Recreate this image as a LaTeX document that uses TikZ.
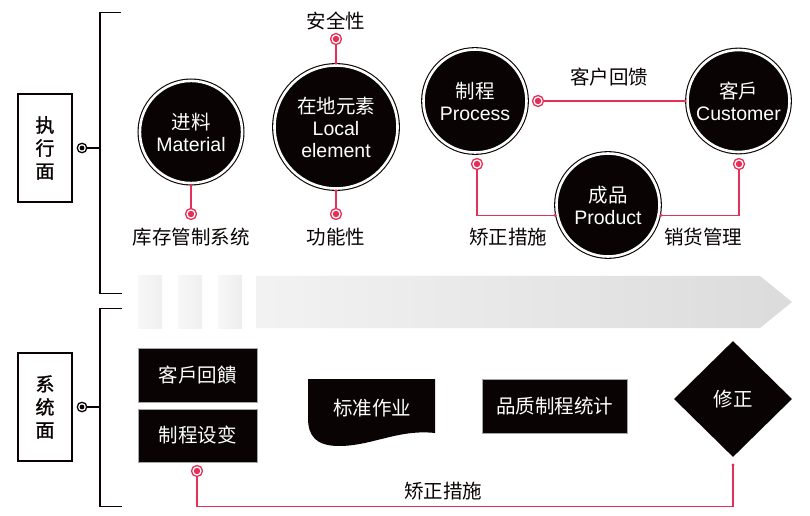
\documentclass[tikz,border=0pt]{standalone}
\usepackage{fontspec}
\setmainfont{Liberation Sans}
\newfontfamily\cjk{Noto Sans CJK SC}
\newfontfamily\cjkbold[FakeBold=1.2]{Noto Sans CJK SC}
\usetikzlibrary{shapes.geometric}
\definecolor{ink}{RGB}{10,3,3}
\definecolor{rose}{RGB}{228,48,88}
\begin{document}
\begin{tikzpicture}[x=1bp,y=-1bp,
  txt/.style={font=\cjk\fontsize{19.5bp}{22bp}\selectfont, text=ink, inner sep=0},
  bigcirc/.style={circle, fill=ink, draw=ink, line width=1.1bp, double=white, double distance=2.6bp,
    inner sep=0, outer sep=2.4bp, text=white, align=center, font=\fontsize{19.5bp}{22bp}\selectfont},
  tgt/.style={circle, draw=rose, line width=1.3bp, fill=white, minimum size=11bp, inner sep=0, outer sep=0,
    path picture={\fill[rose] (path picture bounding box.center) circle (3.2bp);}},
  ring/.style={circle, draw=ink, line width=1.3bp, fill=white, minimum size=9.5bp, inner sep=0, outer sep=0,
    path picture={\fill[ink] (path picture bounding box.center) circle (2.4bp);}},
  pk/.style={draw=rose, line width=1.3bp},
  brk/.style={draw=ink, line width=1.2bp},
  sidebox/.style={rectangle, draw=ink, line width=1.1bp, minimum width=54bp, minimum height=108bp,
    align=center, font=\cjkbold\fontsize{19bp}{23bp}\selectfont, inner sep=0, text=ink},
  boxb/.style={rectangle, fill=ink, draw=black!35, line width=0.5bp, text=white,
    font=\cjk\fontsize{19.5bp}{22bp}\selectfont, inner sep=0},
]
\useasboundingbox (0,0) rectangle (810,516);
\fill[white] (0,0) rectangle (810,516);

% grey band
\shade[left color=black!3, right color=black!6] (138,276) rectangle (162,328);
\shade[left color=black!3, right color=black!6] (178,276) rectangle (202,328);
\shade[left color=black!3, right color=black!7] (218,276) rectangle (242,328);
\shade[left color=black!5, right color=black!14] (256,276) -- (760,276) -- (792,302) -- (760,328) -- (256,328) -- cycle;

% brackets
\draw[brk] (121,12.7) -- (100,12.7) -- (100,293.3) -- (122,293.3);
\draw[brk] (122,308.3) -- (100,308.3) -- (100,506.7) -- (122,506.7);

% side boxes
\node[sidebox] (exe) at (45,148) {执\\行\\面};
\node[sidebox] (sys) at (45,407) {系\\统\\面};
\node[ring] (r1) at (82,148) {};
\node[ring] (r2) at (82,407) {};
\coordinate (b1) at (100,148);
\coordinate (b2) at (100,407);
\draw[brk] (r1) -- (b1);
\draw[brk] (r2) -- (b2);

% circles
\node[bigcirc, minimum size=102.2bp] (mat) at (191,132) {{\cjk 进料}\\Material};
\node[bigcirc, minimum size=123bp] (loc) at (336,127) {{\cjk 在地元素}\\Local\\element};
\node[bigcirc, minimum size=103bp] (proc) at (475,101) {{\cjk 制程}\\Process};
\node[bigcirc, minimum size=102bp] (cust) at (738.5,101) {{\cjk 客戶}\\Customer};
\node[bigcirc, minimum size=103bp] (prod) at (608,205) {{\cjk 成品}\\Product};

% labels
\node[txt] (l1) at (191,237) {库存管制系统};
\node[txt] (l2) at (336,21) {安全性};
\node[txt] (l3) at (336,237) {功能性};
\node[txt] (l4) at (609,77) {客户回馈};
\node[txt] (l5) at (508,237) {矫正措施};
\node[txt] (l6) at (703,237) {销货管理};
\node[txt] (l7) at (443,491) {矫正措施};

% pink connectors (top)
\node[tgt] (t1) at (191,214) {};
\node[tgt] (t2) at (336,39) {};
\node[tgt] (t3) at (336,214) {};
\node[tgt] (t4) at (538,101) {};
\node[tgt] (t5) at (477,164) {};
\node[tgt] (t6) at (739,164) {};
\draw[pk] (mat.south) -- (t1);
\draw[pk] (loc.north) -- (t2);
\draw[pk] (loc.south) -- (t3);
\draw[pk] (t4) -- (cust.west);
\draw[pk] (t5) |- (prod.191.9);
\draw[pk] (t6) |- (prod.-11.9);
\fill[rose] (mat.south) circle (1.7);
\fill[rose] (loc.north) circle (1.7);
\fill[rose] (loc.south) circle (1.7);
\fill[rose] (cust.west) circle (1.7);
\fill[rose] (prod.191.9) circle (1.7);
\fill[rose] (prod.-11.9) circle (1.7);

% bottom shapes
\node[boxb, minimum width=119bp, minimum height=54bp] (fb) at (197.5,375) {客戶回饋};
\node[boxb, minimum width=119bp, minimum height=53bp] (cs) at (197.5,435.5) {制程设变};
\fill[ink] (308,379) -- (435,379) -- (435,433)
  .. controls (398,429) and (372,446) .. (339,446)
  .. controls (316,446) and (308,436) .. (308,418) -- cycle;
\node[txt, text=white] (sop) at (372,408) {标准作业};
\node[boxb, minimum width=145bp, minimum height=54bp] (qc) at (554.5,406) {品质制程统计};
\node[diamond, fill=ink, minimum width=118bp, minimum height=116bp, inner sep=0, text=white,
  font=\cjk\fontsize{19.5bp}{22bp}\selectfont] (fix) at (733,399) {修正};

% bottom pink connector
\node[tgt] (t7) at (197,471) {};
\coordinate (c7) at (197,506.7);
\coordinate (e7) at (733,465);
\draw[pk] (t7) -- (c7) -| (e7);
\fill[rose] (e7) circle (1.7);
\end{tikzpicture}
\end{document}
